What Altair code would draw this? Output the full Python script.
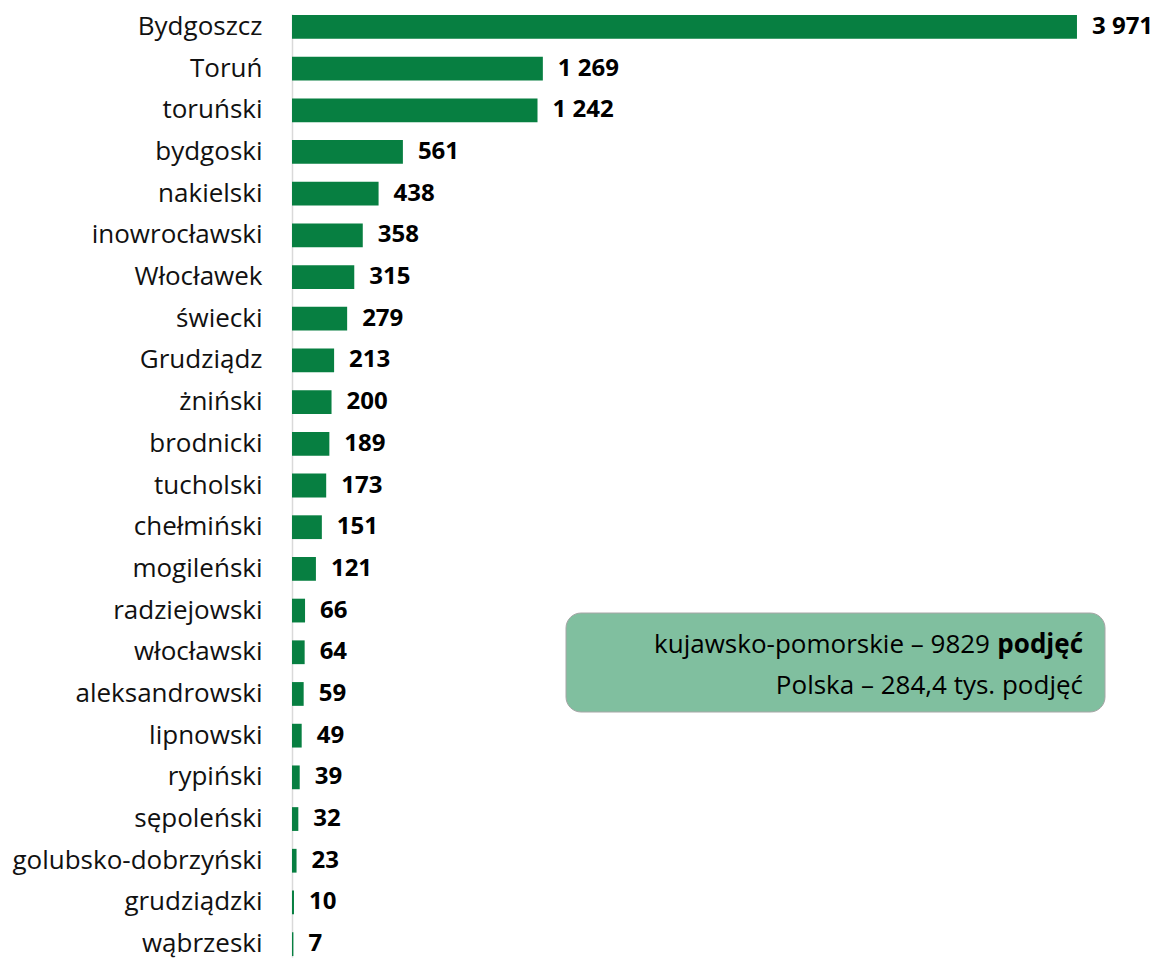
import altair as alt
import pandas as pd

categories = ["Bydgoszcz", "Toruń", "toruński", "bydgoski", "nakielski", "inowrocławski",
              "Włocławek", "świecki", "Grudziądz", "żniński", "brodnicki", "tucholski",
              "chełmiński", "mogileński", "radziejowski", "włocławski", "aleksandrowski",
              "lipnowski", "rypiński", "sępoleński", "golubsko-dobrzyński", "grudziądzki", "wąbrzeski"]
values = [3971, 1269, 1242, 561, 438, 358, 315, 279, 213, 200, 189, 173, 151, 121,
          66, 64, 59, 49, 39, 32, 23, 10, 7]

box_line1 = "kujawsko-pomorskie – 9829"
box_line1_bold = "podjęć"
box_line2 = "Polska – 284,4 tys. podjęć"

df = pd.DataFrame({"cat": categories, "val": values})
df["label"] = [f"{v:,}".replace(",", " ") for v in values]

FONT = "Open Sans"
W, H = 850, 943
GREEN = "#077f41"

y_enc = alt.Y("cat:N", sort=categories,
              scale=alt.Scale(paddingInner=0.43, paddingOuter=0.024),
              axis=alt.Axis(title=None, ticks=False, labelPadding=30, labelFontSize=26,
                            labelFont=FONT, labelColor="#111111", domainColor="#d9d9d9",
                            domainWidth=1.5, labelLimit=400))
x_enc = alt.X("val:Q", scale=alt.Scale(domain=[0, 4300], nice=False), axis=None)

bars = alt.Chart(df).mark_bar(color=GREEN).encode(y=y_enc, x=x_enc)
texts = alt.Chart(df).mark_text(align="left", dx=15, font=FONT, fontSize=24,
                                fontWeight="bold", color="#000000").encode(
    y=alt.Y("cat:N", sort=categories), x="val:Q", text="label:N")

box_df = pd.DataFrame({"a": [0]})
box = alt.Chart(box_df).mark_rect(cornerRadius=15, fill="#80bf9f", stroke="#a6a6a6",
                                  strokeWidth=1).encode(
    x=alt.value(274), x2=alt.value(813), y=alt.value(599), y2=alt.value(698))
t1b = alt.Chart(box_df).mark_text(align="right", baseline="middle", font=FONT, fontSize=26,
                                  fontWeight="bold", color="#000000").encode(
    x=alt.value(791), y=alt.value(631), text=alt.value(box_line1_bold))
t1 = alt.Chart(box_df).mark_text(align="right", baseline="middle", font=FONT, fontSize=26,
                                 color="#000000").encode(
    x=alt.value(791 - 93), y=alt.value(631), text=alt.value(box_line1))
t2 = alt.Chart(box_df).mark_text(align="right", baseline="middle", font=FONT, fontSize=26,
                                 color="#000000").encode(
    x=alt.value(791), y=alt.value(672), text=alt.value(box_line2))

chart = alt.layer(bars, texts, box, t1, t1b, t2).properties(
    width=W, height=H, autosize=alt.AutoSizeParams(type="none"),
    padding={"left": 284, "top": 6, "right": 15, "bottom": 10}
).configure_view(stroke=None)

chart.save("out.html", embed_options={"renderer": "svg", "actions": False})
